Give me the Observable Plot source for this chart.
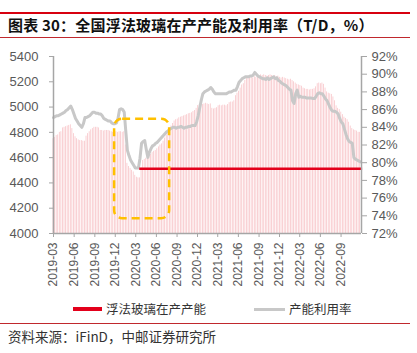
<!DOCTYPE html>
<html><head><meta charset="utf-8">
<script src="https://cdn.jsdelivr.net/npm/d3@7"></script>
<script src="https://cdn.jsdelivr.net/npm/@observablehq/plot@0.6"></script>
<style>
body{margin:0;background:#fff;}
#wrap{position:relative;width:417px;height:353px;overflow:hidden;font-family:"Noto Sans CJK SC",sans-serif;}
.hl{position:absolute;left:0;width:410px;}
#title{position:absolute;left:8px;top:15px;font-size:15px;font-weight:bold;color:#111;white-space:nowrap;line-height:20px;letter-spacing:0.2px;}
#chart{position:absolute;left:0;top:40px;}
#legend{position:absolute;top:300px;left:0;width:417px;height:18px;font-size:12.5px;color:#333;}
#source{position:absolute;left:8px;top:327px;font-size:13.5px;color:#333;white-space:nowrap;line-height:18px;}
</style></head>
<body><div id="wrap">
<div class="hl" style="top:12px;height:2px;background:#d7000f;"></div>
<div id="title">图表 30：全国浮法玻璃在产产能及利用率（T/D，%）</div>
<div class="hl" style="top:37px;height:1px;background:#c0282d;"></div>
<div id="chart"></div>
<div id="legend">
  <div style="position:absolute;left:73px;top:7px;width:29px;height:4px;background:#e3001b;"></div>
  <div style="position:absolute;left:106px;top:0px;line-height:18px;">浮法玻璃在产产能</div>
  <div style="position:absolute;left:254px;top:8px;width:31px;height:3px;background:#c8c8c8;"></div>
  <div style="position:absolute;left:289px;top:0px;line-height:18px;">产能利用率</div>
</div>
<div class="hl" style="top:323px;height:1px;background:#c0282d;"></div>
<div id="source">资料来源：iFinD，中邮证券研究所</div>
</div>
<script>
// weekly series starting 2019-03-01
const startDate = "2019-03-01";
const capacity = [
4750,4760,4775,4780,4800,4805,4835,4840,4845,4850,
4855,4860,4830,4790,4765,4750,4740,4735,4735,4730,
4730,4770,4790,4805,4820,4830,4840,4840,4840,4835,
4815,4815,4810,4815,4815,4815,4810,4805,4800,4805,
4805,4800,4805,4805,4800,4805,4700,4555,4530,4515,
4500,4487,4460,4445,4440,4440,4520,4577,4585,4595,
4603,4615,4625,4640,4650,4656,4670,4685,4700,4709,
4730,4755,4780,4801,4825,4850,4870,4890,4900,4905,
4915,4920,4925,4930,4935,4940,4947,4950,4955,4965,
4973,4990,5012,5020,5025,5020,5025,5030,5025,5020,
5025,4990,4985,4990,4995,5010,5015,5010,5015,5015,
5010,5020,5035,5040,5040,5050,5090,5110,5125,5150,
5175,5185,5210,5225,5230,5230,5235,5230,5240,5235,
5250,5245,5255,5250,5255,5250,5245,5250,5255,5250,
5245,5250,5240,5245,5235,5230,5235,5230,5225,5220,
5215,5220,5210,5200,5190,5180,5175,5170,5165,5150,
5145,5140,5140,5135,5140,5140,5145,5160,5185,5190,
5185,5190,5180,5150,5120,5110,5105,5100,5080,5050,
5010,4990,4980,4960,4940,4920,4910,4900,4880,4850,
4830,4820,4815,4810,4800,4800];
const utilization = [
85.1,85.2,85.3,85.3,85.4,85.5,85.6,85.7,85.9,86.0,
86.2,86.4,86.0,85.5,85.0,84.7,84.4,84.2,84.0,84.4,
85.1,85.1,85.2,85.3,85.5,85.7,85.7,85.6,85.6,85.5,
85.5,85.3,85.0,84.9,84.8,84.7,84.7,84.5,84.4,84.4,
84.5,85.0,86.0,86.1,86.0,85.7,83.5,81.4,80.8,80.3,
80.0,79.7,79.4,79.4,79.4,80.5,82.2,82.4,82.5,81.5,
80.6,81.2,81.6,81.9,82.0,82.2,82.3,82.5,82.7,82.9,
83.1,83.3,83.5,83.6,83.8,83.9,84.0,84.0,83.9,84.0,
84.0,84.1,84.0,83.9,84.0,84.0,84.1,84.1,84.2,84.2,
84.2,84.6,85.3,86.2,87.1,87.8,88.0,88.1,88.2,88.3,
88.5,88.3,88.0,87.8,87.8,87.8,87.8,87.8,87.8,87.8,
87.8,87.9,88.0,88.0,88.1,88.2,88.2,88.6,89.1,89.3,
89.5,89.6,89.7,89.7,89.7,89.8,89.8,89.9,90.2,90.0,
89.8,89.7,89.6,89.5,89.5,89.4,89.6,89.4,89.5,89.6,
89.7,89.5,89.6,89.3,89.2,89.0,88.9,88.8,88.7,88.5,
88.3,88.2,87.0,86.7,87.8,88.2,87.4,87.5,87.4,87.4,
87.4,87.3,87.3,87.3,87.3,87.25,87.25,87.5,87.8,87.9,
87.8,87.8,87.5,87.2,87.0,86.6,86.2,85.9,85.8,85.8,
85.7,85.5,85.0,84.6,84.4,83.8,83.2,82.7,82.4,82.3,
82.2,80.6,80.4,80.3,80.2,80.1];
const xTickLabels = ["2019-03","2019-06","2019-09","2019-12","2020-03","2020-06","2020-09","2020-12","2021-03","2021-06","2021-09","2021-12","2022-03","2022-06","2022-09"];
const leftTicks = [4000,4200,4400,4600,4800,5000,5200,5400];
const rightTicks = [72,74,76,78,80,82,84,86,88,90,92];
const xDomain = ["2019-03-01","2022-12-01"];
// annotations
const boxDates = ["2019-11-28","2020-07-30"];
const boxValues = [4117,4904];
const refLineDates = ["2020-03-19","2022-12-06"];
const refLineValue = 4512;

const parse = d3.utcParse("%Y-%m-%d");
const parseM = d3.utcParse("%Y-%m");
const DAY = 86400000;
const t0 = parse(startDate);
const toLeft = p => 4000 + (p - 72) * 70;
const data = capacity.map((c, i) => ({
  date: new Date(+t0 + i * 7 * DAY),
  cap: c,
  util: utilization[i]
}));
const box = [{x1: parse(boxDates[0]), x2: parse(boxDates[1]), y1: boxValues[0], y2: boxValues[1]}];
const ref = [{x1: parse(refLineDates[0]), x2: parse(refLineDates[1]), y: refLineValue}];
const tickDates = xTickLabels.map(parseM);
const fmt = d3.utcFormat("%Y-%m");
const axisColor = "#a6a6a6";
const textColor = "#595959";

const chart = Plot.plot({
  width: 417, height: 255,
  marginLeft: 53, marginRight: 56, marginTop: 16, marginBottom: 62,
  style: {fontFamily: "'Liberation Sans', Arial, sans-serif", background: "transparent"},
  x: {type: "utc", domain: xDomain.map(parse)},
  y: {domain: [4000, 5400]},
  marks: [
    Plot.rect(data, {
      x1: d => new Date(+d.date - 3.5 * DAY), x2: d => new Date(+d.date + 3.5 * DAY),
      y1: () => 4000, y2: "cap", fill: "#f8c4c8", insetLeft: 0.4, insetRight: 0.4
    }),
    Plot.line(data, {x: "date", y: d => toLeft(d.util), stroke: "#c8c8c8", strokeWidth: 3, strokeLinejoin: "round"}),
    Plot.ruleY(ref, {x1: "x1", x2: "x2", y: "y", stroke: "#e3001b", strokeWidth: 2.5}),
    Plot.rect(box, {x1: "x1", x2: "x2", y1: "y1", y2: "y2", rx: 8, fill: "none", stroke: "#ffc000", strokeWidth: 2.5, strokeDasharray: "8,5"}),
    Plot.ruleX([xDomain[0]].map(parse), {stroke: axisColor, strokeWidth: 1.5}),
    Plot.ruleX([xDomain[1]].map(parse), {stroke: axisColor, strokeWidth: 1.5}),
    Plot.ruleY([4000], {stroke: axisColor, strokeWidth: 1.5}),
    Plot.axisY({anchor: "left", ticks: leftTicks, tickFormat: d3.format("d"), tickSize: 4, tickPadding: 11, fontSize: 13, color: textColor, stroke: axisColor, label: null}),
    Plot.axisY({anchor: "right", ticks: rightTicks.map(toLeft), tickFormat: v => Math.round((v - 4000) / 70 + 72) + "%", tickSize: 5, tickPadding: 5, fontSize: 13, color: textColor, stroke: axisColor, label: null}),
    Plot.axisX({ticks: tickDates, tickFormat: fmt, tickRotate: -90, tickSize: 4, tickPadding: 5, fontSize: 12, color: textColor, stroke: axisColor, label: null})
  ]
});
document.getElementById("chart").appendChild(chart);
</script>
</body></html>
